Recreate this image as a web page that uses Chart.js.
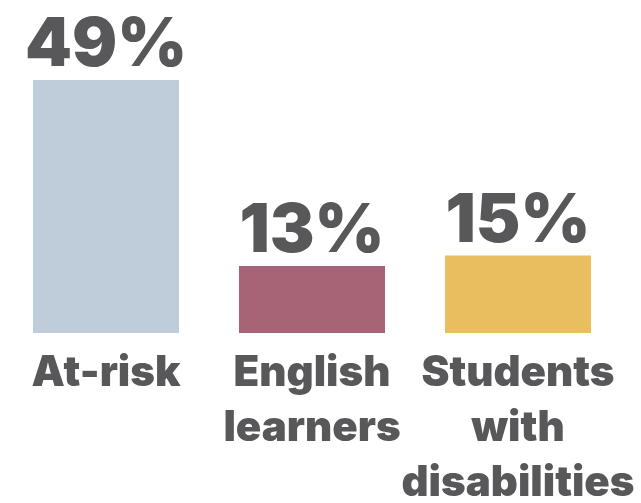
<!DOCTYPE html>
<html>
<head>
<meta charset="utf-8">
<script src="https://cdn.jsdelivr.net/npm/chart.js@4"></script>
<style>
  html, body { margin: 0; padding: 0; background: #ffffff; }
  #wrap { width: 641px; height: 503px; position: relative; }
</style>
</head>
<body>
<div id="wrap"><canvas id="c" width="641" height="503"></canvas></div>
<script>
// Student groups and their shares (percent)
const categories = [["At-risk"], ["English", "learners"], ["Students", "with", "disabilities"]];
const shares = [49, 13, 15];
const barColors = ["#bfccd9", "#a66476", "#e9be5e"];

const textColor = "#58585a";
const fontFamily = "Inter, 'Liberation Sans', Arial, sans-serif";

// Draws the percentage above each bar
const valueLabels = {
  id: "valueLabels",
  afterDatasetsDraw(chart) {
    const ctx = chart.ctx;
    const meta = chart.getDatasetMeta(0);
    ctx.save();
    ctx.fillStyle = textColor;
    ctx.font = "900 67px " + fontFamily;
    ctx.textAlign = "center";
    ctx.textBaseline = "alphabetic";
    meta.data.forEach((bar, i) => {
      ctx.fillText(shares[i] + "%", bar.x, bar.y - 14);
    });
    ctx.restore();
  }
};

new Chart(document.getElementById("c"), {
  type: "bar",
  data: {
    labels: categories,
    datasets: [{
      data: shares,
      backgroundColor: barColors,
      borderWidth: 0,
      categoryPercentage: 1,
      barPercentage: 0.709
    }]
  },
  options: {
    responsive: false,
    animation: false,
    layout: { padding: { left: 3, right: 20, top: 0, bottom: 0 } },
    plugins: {
      legend: { display: false },
      tooltip: { enabled: false }
    },
    scales: {
      y: {
        display: false,
        min: 0,
        max: 64.5
      },
      x: {
        grid: { display: false, drawTicks: false },
        border: { display: false },
        afterFit(scale) {
          scale.height = 170;
          scale.paddingLeft = 0;
          scale.paddingRight = 0;
        },
        ticks: {
          autoSkip: false,
          maxRotation: 0,
          minRotation: 0,
          padding: 13,
          color: textColor,
          font: { family: fontFamily, size: 42, weight: "900", lineHeight: "55px" }
        }
      }
    }
  },
  plugins: [valueLabels]
});
</script>
</body>
</html>
